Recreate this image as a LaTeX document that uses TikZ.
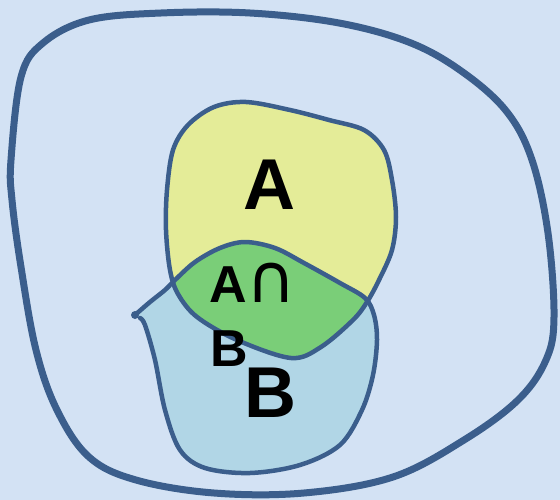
\documentclass[tikz,border=0pt]{standalone}
\usepackage{fontspec}
\setmainfont{Liberation Sans}
\newfontfamily\capfont{DejaVu Sans}
\definecolor{bgc}{RGB}{211,226,244}
\definecolor{edge}{RGB}{59,94,140}
\definecolor{yel}{RGB}{228,236,152}
\definecolor{blu}{RGB}{177,214,230}
\definecolor{grn}{RGB}{122,206,120}
\tikzset{
  outline/.style={draw=edge, line width=4.5pt, line join=round, line cap=round},
  bigtxt/.style={font=\bfseries\fontsize{72}{80}\selectfont, inner sep=0pt, anchor=base},
  midtxt/.style={font=\fontsize{52}{60}\selectfont, inner sep=0pt, anchor=base west}
}
\begin{document}
\begin{tikzpicture}[x=1pt,y=-1pt]
\fill[bgc] (0,0) rectangle (560,500);
\useasboundingbox (0,0) rectangle (560,500);
% outer universe
\draw[draw=edge, line width=7pt] plot[smooth cycle, tension=0.6] coordinates {
 (11,160) (21,77) (43,43) (89,20) (161,13) (250,13) (339,23) (411,43) (464,73)
 (507,112) (532,160) (548,233) (554,317) (546,360) (518,400) (464,440) (393,477)
 (304,493) (214,493) (136,480) (89,457) (57,410) (36,350) (21,267) (12,200)};
% region paths
\def\pathA{plot[smooth cycle, tension=0.55] coordinates {
 (246,102) (290,110) (329,120) (364,130) (384,150) (392,180) (396,217) (392,250)
 (379,280) (367,302) (353,320) (321,347) (291,358) (237,340) (197,317) (178,294)
 (170,270) (166,230) (167,190) (173,150) (188,125) (214,107)}}
\def\pathB{(135,315) -- plot[smooth, tension=0.55] coordinates {
 (135,315) (150,302) (165,290) (175,280) (195,262) (220,248) (245,242) (275,248)
 (304,263) (340,283) (365,298) (374,315) (377,340) (373,375) (362,410) (340,445)
 (300,465) (250,473) (205,468) (180,450) (165,410) (155,360) (145,325) (140,318)} -- cycle}
\fill[blu] \pathB;
\fill[yel] \pathA;
\begin{scope}
  \clip \pathA;
  \fill[grn] \pathB;
\end{scope}
\draw[outline] \pathA;
\draw[outline] plot[smooth, tension=0.55] coordinates {
 (135,315) (150,302) (165,290) (175,280) (195,262) (220,248) (245,242) (275,248)
 (304,263) (340,283) (365,298) (374,315) (377,340) (373,375) (362,410) (340,445)
 (300,465) (250,473) (205,468) (180,450) (165,410) (155,360) (145,325) (140,318)};
\fill[edge] (135,315) circle (4);
% labels
\node[bigtxt] (la) at (269,210) {A};
\node[bigtxt] (lb) at (270,417) {B};
\node[midtxt] (lab1) at (209,302) {\textbf{A}{\capfont\fontsize{68}{70}\selectfont ∩}};
\node[midtxt] (lab2) at (210,366) {\textbf{B}};
\end{tikzpicture}
\end{document}
